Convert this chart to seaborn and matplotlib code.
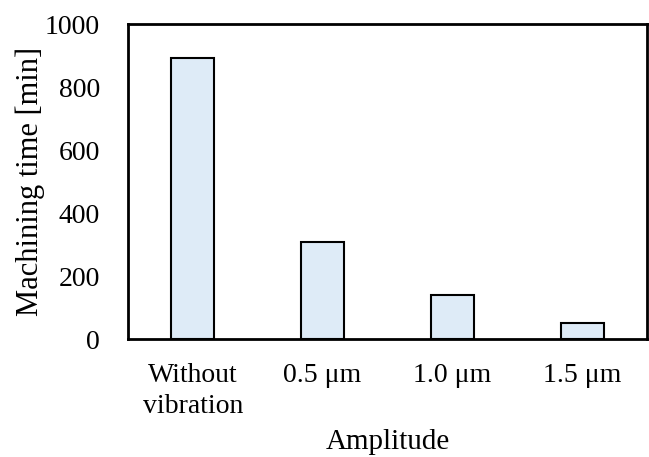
import matplotlib
matplotlib.use("Agg")
import matplotlib.pyplot as plt
import seaborn as sns
import pandas as pd

categories = ["Without\nvibration", "0.5 μm", "1.0 μm", "1.5 μm"]
machining_time = [893, 307, 140, 50]
yticks = [0, 200, 400, 600, 800, 1000]

sns.set_style("white")
plt.rcParams["font.family"] = ["Liberation Serif", "DejaVu Serif"]
plt.rcParams["text.color"] = "black"
plt.rcParams["axes.labelcolor"] = "black"
plt.rcParams["xtick.color"] = "black"
plt.rcParams["ytick.color"] = "black"

df = pd.DataFrame({"Amplitude": categories, "time": machining_time})

fig = plt.figure(figsize=(6.49, 4.57), dpi=100)
ax = fig.add_axes([0.197, 0.258, 0.8, 0.689])
sns.barplot(data=df, x="Amplitude", y="time", ax=ax, color="#DEEBF7",
            saturation=1, edgecolor="black", linewidth=1.5, width=0.33)
ax.set_xlim(-0.5, 3.5)
ax.set_ylim(0, 1000)
ax.set_yticks(yticks)
ax.set_yticklabels([str(v) for v in yticks])
ax.tick_params(axis="y", direction="in", length=7, width=1.5, labelsize=20, pad=20,
               colors="black")
ax.tick_params(axis="x", length=0, labelsize=20, pad=17, colors="black")
for lbl in ax.get_xticklabels():
    lbl.set_linespacing(1.35)
for s in ax.spines.values():
    s.set_linewidth(2)
    s.set_color("black")
ax.set_xlabel("Amplitude", fontsize=21, labelpad=7, color="black")
ax.set_ylabel("Machining time [min]", fontsize=22, labelpad=0, color="black")
fig.savefig("out.png", dpi=100)
